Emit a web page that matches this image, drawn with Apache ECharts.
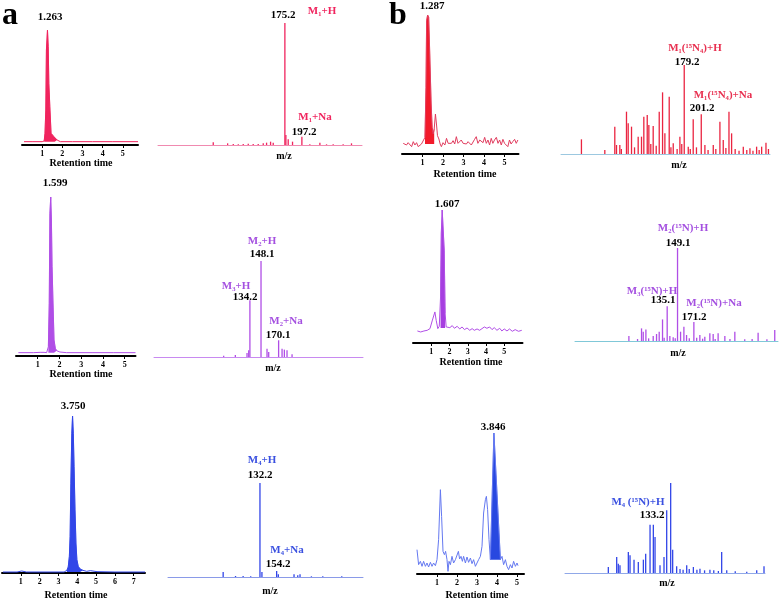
<!DOCTYPE html>
<html>
<head>
<meta charset="utf-8">
<script src="https://cdn.jsdelivr.net/npm/echarts@6/dist/echarts.min.js"></script>
<style>
  html, body { margin: 0; padding: 0; background: #fff; }
  #main { width: 780px; height: 601px; }
</style>
</head>
<body>
<div id="main"></div>
<script>
const FONT = '"Liberation Serif", "DejaVu Serif", serif';

// retention time traces, [time, intensity]
const a1Trace = [[0.1,10],[0.5,10],[1.0,10],[1.1,12],[1.14,35],[1.18,105],[1.21,285],[1.263,345],[1.3,295],[1.33,185],[1.38,115],[1.44,35],[1.5,30],[1.58,25],[1.62,30],[1.66,22],[1.74,15],[1.9,10],[2.5,10],[3.5,10],[4.5,10],[5.75,10]];
const a2Trace = [[0.11,10],[0.8,10],[1.11,11],[1.18,15],[1.29,11],[1.41,10],[1.49,28],[1.53,158],[1.56,428],[1.599,477],[1.63,408],[1.66,268],[1.7,168],[1.75,48],[1.81,23],[1.87,16],[2.02,12],[2.33,10],[3.5,10],[4.5,10],[5.5,10]];
const a3Trace = [[0.05,3],[0.8,3],[1.05,6],[1.15,6],[1.3,3],[2.5,3],[3.3,3],[3.45,8],[3.52,18],[3.58,50],[3.62,110],[3.66,270],[3.71,420],[3.75,472],[3.79,420],[3.83,320],[3.88,190],[3.93,90],[3.98,40],[4.05,20],[4.15,12],[4.3,8],[4.5,5],[4.7,7],[4.8,4],[5.05,4],[5.15,3],[6,3],[7.6,3]];
const b1Trace = [[0.06,32],[0.14,37],[0.22,27],[0.30,34],[0.38,30],[0.47,22],[0.55,37],[0.63,27],[0.71,34],[0.79,22],[0.87,25],[0.95,30],[1.03,24],[1.12,50],[1.17,200],[1.2,400],[1.25,417],[1.3,410],[1.34,330],[1.38,240],[1.42,150],[1.47,80],[1.52,60],[1.57,75],[1.63,120],[1.68,90],[1.73,55],[1.8,45],[1.86,30],[1.92,22],[2.0,34],[2.09,27],[2.17,47],[2.25,32],[2.33,37],[2.41,32],[2.49,40],[2.57,30],[2.65,52],[2.73,32],[2.81,37],[2.89,42],[2.98,32],[3.06,37],[3.14,30],[3.22,37],[3.30,32],[3.38,27],[3.46,32],[3.54,44],[3.62,52],[3.70,32],[3.79,42],[3.87,47],[3.95,34],[4.03,50],[4.11,32],[4.19,42],[4.27,27],[4.35,47],[4.43,32],[4.51,42],[4.60,50],[4.68,32],[4.76,42],[4.84,27],[4.92,44],[5.00,32],[5.08,37],[5.16,22],[5.24,42],[5.32,30],[5.40,37],[5.49,44],[5.57,32],[5.65,42]];
const b2Trace = [[0.24,36],[0.42,33],[0.6,36],[0.78,38],[0.93,43],[1.05,66],[1.2,93],[1.27,68],[1.36,43],[1.44,50],[1.51,138],[1.55,328],[1.6,398],[1.65,393],[1.71,278],[1.76,88],[1.82,48],[1.91,53],[2.02,46],[2.15,52],[2.27,44],[2.42,50],[2.56,42],[2.69,48],[2.82,40],[2.96,45],[3.11,38],[3.24,43],[3.36,38],[3.51,42],[3.65,38],[3.78,43],[3.91,48],[4.05,44],[4.2,48],[4.33,40],[4.45,46],[4.6,38],[4.75,44],[4.87,36],[5.0,42],[5.15,36],[5.29,42],[5.44,35],[5.6,40],[5.78,35],[5.96,38]];
const b3Trace = [[0.0,73],[0.08,28],[0.17,38],[0.25,23],[0.33,38],[0.42,23],[0.5,33],[0.58,21],[0.67,35],[0.75,23],[0.83,33],[0.92,25],[1.0,43],[1.08,103],[1.17,253],[1.23,173],[1.3,68],[1.37,58],[1.43,68],[1.5,43],[1.55,8],[1.6,38],[1.67,28],[1.75,53],[1.83,33],[1.92,43],[2.0,38],[2.07,68],[2.13,45],[2.2,53],[2.27,38],[2.33,53],[2.42,33],[2.5,51],[2.58,35],[2.67,48],[2.75,31],[2.83,43],[2.92,23],[3.0,33],[3.08,43],[3.17,53],[3.25,83],[3.33,183],[3.42,223],[3.47,233],[3.53,193],[3.6,103],[3.67,43],[3.846,423],[4.17,43],[4.25,53],[4.33,28],[4.42,43],[4.5,23],[4.58,13],[4.67,28],[4.75,18],[4.83,38],[4.92,23],[5.0,33],[5.05,25]];

// mass spectra, [m/z, intensity]
const a1Peaks = [[82.5,8],[101.1,5],[108.4,3],[114.9,2],[121.3,3],[127.8,4],[134.2,3],[140.7,3],[147.2,5],[151.5,7],[156.7,10],[160.1,7],[175.2,365],[176.5,30],[179.5,17],[185.1,10],[197.2,25],[207.5,2],[220.5,7],[229.1,2],[237.7,2],[250.6,2],[261.4,5]];
const a2Peaks = [[101.4,4],[116.0,6],[130.6,12],[132.7,20],[134.2,170],[148.1,287],[155.6,25],[157.7,15],[170.1,50],[174.4,25],[177.3,22],[180.6,20],[186.9,8]];
const a3Peaks = [[83.7,15],[100,3],[110,3],[120,2],[132.2,280],[134.8,15],[154.2,18],[156.4,8],[177.1,8],[182,5],[185,8],[200,2],[215,2],[240,2]];
const b1Peaks = [[46.4,44],[76.6,12],[89.5,82],[91.7,27],[96,27],[98,15],[104.6,127],[106.8,92],[111.1,82],[115,20],[119.7,52],[124,52],[127,112],[131.4,117],[133.5,87],[136,30],[139.1,84],[143,25],[146.9,127],[151.2,185],[154.2,62],[159.8,172],[162,20],[165,32],[170,15],[173.6,52],[176,30],[179.2,267],[184.4,22],[187,15],[190.8,104],[195,20],[201.2,119],[205.9,27],[210,12],[216.7,27],[220,15],[225.3,97],[229.6,42],[233,18],[237,127],[240.4,62],[245,15],[250,10],[255.5,22],[260,12],[264.1,17],[268,10],[272.7,22],[276,12],[279.2,22],[284.8,34],[288,15]];
const b2Peaks = [[83.3,15],[95,6],[100.4,38],[102.7,28],[106.3,35],[110,8],[116.2,15],[120.7,21],[124.3,28],[128.8,65],[131,10],[135.1,105],[138.7,15],[143.2,11],[146,8],[149.1,280],[153.2,28],[157.7,43],[161.3,18],[165,8],[171.2,57],[175,10],[179.3,18],[183,7],[186,13],[192.8,23],[197.3,21],[200,6],[204,23],[213.1,15],[220,6],[226.6,28],[240,5],[250,6],[258.1,25],[270,5],[280.6,33]];
const b3Peaks = [[74.5,18],[85.4,48],[87.5,28],[89.7,23],[100.6,63],[102.8,53],[108,40],[113.6,33],[120.2,40],[123.2,58],[128.9,145],[133.2,145],[135.4,108],[141.9,23],[147.1,48],[150.6,188],[155.8,270],[158.4,70],[163.6,20],[168,12],[172,10],[176.7,23],[180,12],[185.4,18],[190,10],[194,13],[200,8],[207,10],[212,8],[218,6],[222.3,63],[228.9,8],[240,5],[255,4],[268,8],[277.5,20]];

const ticks5 = [1, 2, 3, 4, 5];
const ticks7 = [1, 2, 3, 4, 5, 6, 7];

const PINK = '#f0245e', RED = '#f21a2a', PURPLE = '#b04ee6', BLUE = '#3246e8';

const grid = [], xAxis = [], yAxis = [], series = [], graphic = [];

function addChrom(box, tmax, ymax, ticks, trace, fillRange, origin, lineColor, fillColor) {
  const i = grid.length;
  grid.push({ left: box[0], top: box[1], width: box[2], height: box[3] });
  xAxis.push({
    gridIndex: i, type: 'value', min: 0, max: tmax,
    splitLine: { show: false },
    axisLine: { lineStyle: { color: '#000', width: 2 } },
    axisTick: { length: 3, customValues: ticks, lineStyle: { color: '#000', width: 1 } },
    axisLabel: { customValues: ticks, fontSize: 8, fontWeight: 'bold', fontFamily: FONT, color: '#000', margin: 5 }
  });
  yAxis.push({ gridIndex: i, type: 'value', min: 0, max: ymax, show: false });
  series.push({
    type: 'line', xAxisIndex: i, yAxisIndex: i, data: trace.filter(p => p[0] >= fillRange[0] && p[0] <= fillRange[1]),
    showSymbol: false, lineStyle: { width: 0.5, color: fillColor },
    areaStyle: { color: fillColor, opacity: 1, origin: origin }, z: 2, silent: true
  });
  series.push({
    type: 'line', xAxisIndex: i, yAxisIndex: i, data: trace,
    showSymbol: false, lineStyle: { width: 1, color: lineColor }, z: 3, silent: true
  });
}

function addMS(box, mzMin, mzMax, ymax, peaks, color, baseColor) {
  const i = grid.length;
  grid.push({ left: box[0], top: box[1], width: box[2], height: box[3] });
  xAxis.push({
    gridIndex: i, type: 'value', min: mzMin, max: mzMax,
    splitLine: { show: false }, axisTick: { show: false }, axisLabel: { show: false },
    axisLine: { lineStyle: { color: baseColor, width: 1 } }
  });
  yAxis.push({ gridIndex: i, type: 'value', min: 0, max: ymax, show: false });
  series.push({
    type: 'bar', xAxisIndex: i, yAxisIndex: i, data: peaks, barWidth: 1.3,
    itemStyle: { color: color }, silent: true
  });
}

function label(text, x, y, color, size) {
  graphic.push({
    type: 'text', x: x, y: y, silent: true,
    style: { text: text, fill: color || '#000', font: 'bold ' + (size || 11) + 'px ' + FONT, textAlign: 'center', textVerticalAlign: 'middle' }
  });
}

// row 1
addChrom([22, 30, 116, 115], 5.75, 345, ticks5, a1Trace, [1.1, 1.74], 10, PINK, PINK);
addMS([158, 23, 204, 122], 11, 275, 365, a1Peaks, PINK, '#f08ab0');
addChrom([402, 15, 116.5, 139], 5.68, 417, ticks5, b1Trace, [1.12, 1.6], 30, '#e03c5e', RED);
addMS([561, 65, 209, 89], 20, 290, 267, b1Peaks, '#ea2440', '#9cc8e0');
// row 2
addChrom([16, 197, 119.5, 159], 5.5, 477, ticks5, a2Trace, [1.45, 1.9], 10, PURPLE, PURPLE);
addMS([154, 261, 209, 96], 14.3, 275.6, 287, a2Peaks, PURPLE, '#c88af0');
addChrom([413, 210, 109.5, 133], 6.0, 398, ticks5, b2Trace, [1.5, 1.8], 45, PURPLE, '#a63ee0');
addMS([575, 248, 203, 93], 10.4, 285, 280, b2Peaks, PURPLE, '#80c8d8');
// row 3
addChrom([2, 416, 143, 157], 7.6, 472, ticks7, a3Trace, [3.4, 4.4], 3, BLUE, BLUE);
addMS([168, 483, 195, 94], 11, 268, 280, a3Peaks, BLUE, '#8a9ae8');
addChrom([417, 433, 107, 141], 5.35, 423, ticks5, b3Trace, [3.67, 4.17], 43, '#6478f0', '#2848e0');
addMS([565, 483, 200, 90], 18, 278.8, 270, b3Peaks, BLUE, '#90a8e8');

// annotations
label('a', 10, 16, '#000', 32);
label('b', 398, 16, '#000', 32);

label('1.263', 50, 17);
label('175.2', 283, 15);
label('M₁+H', 322, 11, PINK);
label('M₁+Na', 315, 117, PINK);
label('197.2', 304, 132);
label('Retention time', 81, 163, '#000', 10);
label('m/z', 284, 156, '#000', 10);

label('1.287', 432, 6);
label('M₁(¹⁵N₄)+H', 695, 48, '#e83050');
label('179.2', 687, 62);
label('M₁(¹⁵N₄)+Na', 723, 95, '#e83050');
label('201.2', 702, 108);
label('Retention time', 465, 174, '#000', 10);
label('m/z', 679, 165, '#000', 10);

label('1.599', 55, 183);
label('M₂+H', 262, 241, '#a450e0');
label('148.1', 262, 254);
label('M₃+H', 236, 286, '#a450e0');
label('134.2', 245, 297);
label('M₂+Na', 286, 321, '#a450e0');
label('170.1', 278, 335);
label('Retention time', 81, 374, '#000', 10);
label('m/z', 273, 368, '#000', 10);

label('1.607', 447, 204);
label('M₂(¹⁵N)+H', 683, 228, '#a450e0');
label('149.1', 678, 243);
label('M₃(¹⁵N)+H', 652, 291, '#a450e0');
label('135.1', 663, 300);
label('M₂(¹⁵N)+Na', 714, 303, '#a450e0');
label('171.2', 694, 317);
label('Retention time', 471, 362, '#000', 10);
label('m/z', 678, 353, '#000', 10);

label('3.750', 73, 406);
label('M₄+H', 262, 460, '#3a50e0');
label('132.2', 260, 475);
label('M₄+Na', 287, 550, '#3a50e0');
label('154.2', 278, 564);
label('Retention time', 76, 595, '#000', 10);
label('m/z', 270, 591, '#000', 10);

label('3.846', 493, 427);
label('M₄ (¹⁵N)+H', 638, 502, '#3a50e0');
label('133.2', 652, 515);
label('Retention time', 477, 595, '#000', 10);
label('m/z', 667, 583, '#000', 10);

const chart = echarts.init(document.getElementById('main'));
chart.setOption({
  backgroundColor: '#fff',
  animation: false,
  grid: grid,
  xAxis: xAxis,
  yAxis: yAxis,
  series: series,
  graphic: graphic
});
</script>
</body>
</html>
